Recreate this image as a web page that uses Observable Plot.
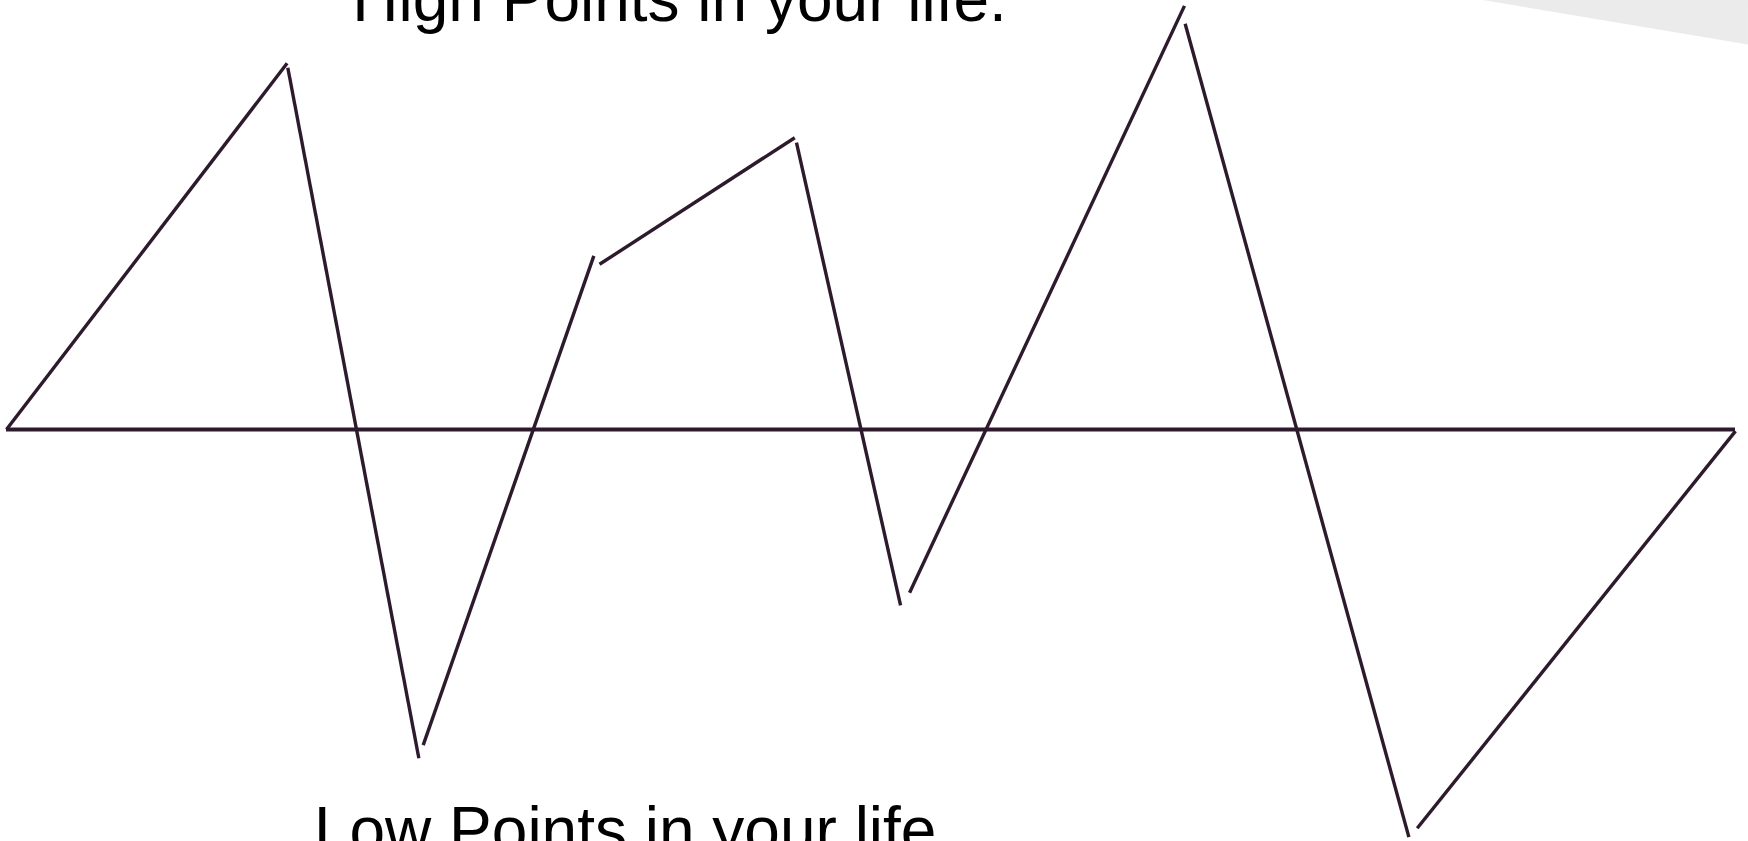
<!DOCTYPE html>
<html>
<head>
<meta charset="utf-8">
<script src="https://cdn.jsdelivr.net/npm/d3@7"></script>
<script src="https://cdn.jsdelivr.net/npm/@observablehq/plot@0.6"></script>
<style>
  html, body { margin: 0; padding: 0; background: #ffffff; overflow: hidden; }
  #chart svg { display: block; }
</style>
</head>
<body>
<div id="chart"></div>
<script>
// Life timeline (x: 0–100 of a life span), life "value" (y: positive = high, negative = low)
const segStartX = [0, 16.27, 24.10, 34.30, 45.69, 52.23, 68.17, 81.59];
const segStartY = [0, 90.45, -78.9, 41.3, 71.7, -40.8, 101.45, -99.7];
const segEndX   = [16.23, 23.85, 33.97, 45.59, 51.71, 68.13, 81.11, 100];
const segEndY   = [91.55, -82.2, 43.4, 72.95, -43.95, 105.9, -101.9, -0.4];

// Neutral baseline
const baselineValue = [0];
const baselineStart = 0;
const baselineEnd = 100;

// Labels
const labelText = ["High Points in your life.", "Low Points in your life."];
const labelX = [20.0, 17.78];
const labelY = [102.1, -105.6];

// Decorative grey wedge (top-right corner)
const wedgeX = [85.42, 100.75];
const wedgeTop = [107.25, 107.25];
const wedgeBottom = [107.25, 96.1];

const segments = segStartX.map((x, i) => ({x1: x, y1: segStartY[i], x2: segEndX[i], y2: segEndY[i]}));
const labels = labelText.map((t, i) => ({text: t, x: labelX[i], y: labelY[i]}));
const wedge = wedgeX.map((x, i) => ({x, y1: wedgeTop[i], y2: wedgeBottom[i]}));

const ink = "#2d1a2c";

const chart = Plot.plot({
  width: 1748,
  height: 841,
  margin: 0,
  style: {background: "#ffffff", fontFamily: "'Liberation Sans', Arial, sans-serif"},
  x: {domain: [0, 100], range: [6, 1735], axis: null},
  y: {domain: [-103, 107.25], range: [841, 0], axis: null},
  marks: [
    Plot.areaY(wedge, {x: "x", y1: "y1", y2: "y2", fill: "#ebebeb", curve: "linear"}),
    Plot.ruleY(baselineValue, {x1: baselineStart, x2: baselineEnd, stroke: ink, strokeWidth: 3.8}),
    Plot.link(segments, {x1: "x1", y1: "y1", x2: "x2", y2: "y2", stroke: ink, strokeWidth: 3.4}),
    Plot.text(labels, {
      x: "x", y: "y", text: "text",
      textAnchor: "start", lineAnchor: "bottom",
      fontSize: 64, fill: "#000000",
      fontFamily: "'Liberation Sans', Arial, sans-serif"
    })
  ]
});

document.getElementById("chart").appendChild(chart);
</script>
</body>
</html>
